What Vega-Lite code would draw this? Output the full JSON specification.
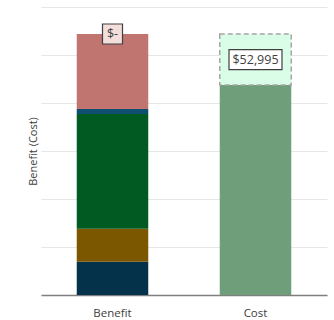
{
  "$schema": "https://vega.github.io/schema/vega-lite/v6.json",
  "width": 286,
  "height": 288,
  "autosize": "none",
  "padding": {"left": 41, "top": 7, "right": 7, "bottom": 25},
  "background": "white",
  "config": {
    "view": {"stroke": null},
    "font": "Open Sans",
    "axis": {"labelFont": "Open Sans", "titleFont": "Open Sans"}
  },
  "datasets": {
    "bars": [
      {"category": "Benefit", "component": "Benefit 1", "value": 6940, "order": 1},
      {"category": "Benefit", "component": "Benefit 2", "value": 6875, "order": 2},
      {"category": "Benefit", "component": "Benefit 3", "value": 23900, "order": 3},
      {"category": "Benefit", "component": "Benefit 4", "value": 1040, "order": 4},
      {"category": "Benefit", "component": "Benefit 5", "value": 15625, "order": 5},
      {"category": "Cost", "component": "Cost", "value": 43750, "order": 6},
      {"category": "Cost", "component": "Cost gap", "value": 10625, "order": 7}
    ],
    "labels": [
      {"category": "Benefit", "label": "$-", "value": 54380, "box": "small"},
      {"category": "Cost", "label": "$52,995", "value": 49020, "box": "wide"}
    ]
  },
  "layer": [
    {
      "data": {"name": "bars"},
      "mark": {"type": "bar", "strokeWidth": 1.5},
      "encoding": {
        "x": {
          "field": "category", "type": "nominal",
          "scale": {"paddingInner": 0.5, "paddingOuter": 0.25},
          "axis": {
            "title": null, "labelAngle": 0, "ticks": false, "labelPadding": 12,
            "labelFontSize": 11.5, "labelColor": "#404040",
            "domainColor": "#7f7f7f", "domainWidth": 1.5
          }
        },
        "y": {
          "field": "value", "type": "quantitative", "stack": "zero",
          "scale": {"domain": [0, 60000], "nice": false},
          "axis": {
            "title": "Benefit (Cost)", "labels": false, "ticks": false, "domain": false,
            "values": [0, 10000, 20000, 30000, 40000, 50000, 60000],
            "gridColor": "#e6e6e6", "gridWidth": 1,
            "titleFontSize": 11, "titleColor": "#404040", "titleFontWeight": "normal",
            "titlePadding": 3
          }
        },
        "order": {"field": "order"},
        "color": {
          "field": "component", "type": "nominal", "legend": null,
          "scale": {
            "domain": ["Benefit 1", "Benefit 2", "Benefit 3", "Benefit 4", "Benefit 5", "Cost", "Cost gap"],
            "range": ["#04324a", "#7b5800", "#005a22", "#0e4f6f", "#c07571", "#6f9e7a", "#dafde7"]
          }
        },
        "stroke": {
          "field": "component", "type": "nominal", "legend": null,
          "scale": {
            "domain": ["Benefit 1", "Benefit 2", "Benefit 3", "Benefit 4", "Benefit 5", "Cost", "Cost gap"],
            "range": ["transparent", "transparent", "transparent", "transparent", "transparent", "transparent", "#a6a6a6"]
          }
        },
        "strokeDash": {
          "field": "component", "type": "nominal", "legend": null,
          "scale": {
            "domain": ["Benefit 1", "Benefit 2", "Benefit 3", "Benefit 4", "Benefit 5", "Cost", "Cost gap"],
            "range": [[1, 0], [1, 0], [1, 0], [1, 0], [1, 0], [1, 0], [5, 3]]
          }
        }
      }
    },
    {
      "data": {"name": "labels"},
      "mark": {"type": "point", "filled": true, "opacity": 1, "strokeWidth": 1.2, "stroke": "#404040"},
      "encoding": {
        "x": {"field": "category", "type": "nominal"},
        "y": {"field": "value", "type": "quantitative"},
        "shape": {
          "field": "box", "type": "nominal", "legend": null,
          "scale": {"domain": ["small", "wide"], "range": ["M-1,-1H1V1H-1Z", "M-2.65,-1H2.65V1H-2.65Z"]}
        },
        "size": {"value": 400},
        "fill": {
          "field": "box", "type": "nominal", "legend": null,
          "scale": {"domain": ["small", "wide"], "range": ["#f3dedc", "#ffffff"]}
        }
      }
    },
    {
      "data": {"name": "labels"},
      "mark": {"type": "text", "fontSize": 12.5, "color": "#404040", "baseline": "middle", "align": "center"},
      "encoding": {
        "x": {"field": "category", "type": "nominal"},
        "y": {"field": "value", "type": "quantitative"},
        "text": {"field": "label"}
      }
    }
  ]
}
